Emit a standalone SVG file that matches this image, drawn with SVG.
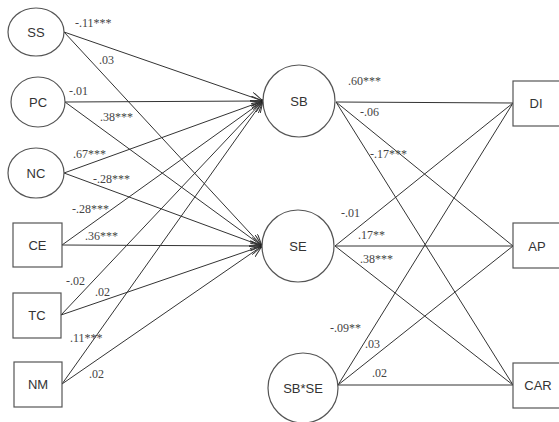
<svg xmlns="http://www.w3.org/2000/svg" width="559" height="422" viewBox="0 0 559 422">
<style>
.node{fill:#fff;stroke:#555;stroke-width:1.2}
.lbl{font-family:"Liberation Sans",Arial,sans-serif;font-size:13px;fill:#333;text-anchor:middle;dominant-baseline:central}
.coef{font-family:"Liberation Serif","Times New Roman",serif;font-size:12px;fill:#444}
.edge{stroke:#333;stroke-width:1;fill:none}
.arr{marker-end:url(#open)}
</style>
<defs>
<marker id="open" viewBox="0 0 12 10" refX="12" refY="5" markerWidth="12" markerHeight="10" markerUnits="userSpaceOnUse" orient="auto">
<path d="M0,0 L12,5 L0,10" fill="none" stroke="#333" stroke-width="1"/>
<circle cx="11" cy="5" r="1.5" fill="#222"/>
</marker>
</defs>
<rect width="559" height="422" fill="#fff"/>
<g id="connectors">
<line class="edge arr" x1="64" y1="32" x2="263" y2="101"/>
<line class="edge arr" x1="64" y1="32" x2="262" y2="246"/>
<line class="edge arr" x1="65" y1="102" x2="263" y2="101"/>
<line class="edge arr" x1="65" y1="102" x2="262" y2="246"/>
<line class="edge arr" x1="64" y1="173" x2="263" y2="101"/>
<line class="edge arr" x1="64" y1="173" x2="262" y2="246"/>
<line class="edge arr" x1="62" y1="245" x2="263" y2="101"/>
<line class="edge arr" x1="62" y1="245" x2="262" y2="246"/>
<line class="edge arr" x1="61" y1="315" x2="263" y2="101"/>
<line class="edge arr" x1="61" y1="315" x2="262" y2="246"/>
<line class="edge arr" x1="62" y1="384" x2="263" y2="101"/>
<line class="edge arr" x1="62" y1="384" x2="262" y2="246"/>
<line class="edge" x1="336" y1="102" x2="513" y2="103"/>
<line class="edge" x1="336" y1="102" x2="513" y2="246"/>
<line class="edge" x1="336" y1="102" x2="513" y2="385"/>
<line class="edge" x1="335" y1="246" x2="513" y2="103"/>
<line class="edge" x1="335" y1="246" x2="513" y2="246"/>
<line class="edge" x1="335" y1="246" x2="513" y2="385"/>
<line class="edge" x1="338" y1="385" x2="513" y2="103"/>
<line class="edge" x1="338" y1="385" x2="513" y2="246"/>
<line class="edge" x1="338" y1="385" x2="513" y2="385"/>
</g>
<g id="coefficients">
<text class="coef" x="75" y="27">-.11***</text>
<text class="coef" x="99" y="64">.03</text>
<text class="coef" x="69" y="95">-.01</text>
<text class="coef" x="100" y="121">.38***</text>
<text class="coef" x="73" y="158">.67***</text>
<text class="coef" x="93" y="183">-.28***</text>
<text class="coef" x="72" y="213">-.28***</text>
<text class="coef" x="85" y="240">.36***</text>
<text class="coef" x="66" y="285">-.02</text>
<text class="coef" x="95" y="296">.02</text>
<text class="coef" x="70" y="342">.11***</text>
<text class="coef" x="89" y="378">.02</text>
<text class="coef" x="348" y="85">.60***</text>
<text class="coef" x="360" y="116">-.06</text>
<text class="coef" x="370" y="158">-.17***</text>
<text class="coef" x="341" y="217">-.01</text>
<text class="coef" x="358" y="239">.17**</text>
<text class="coef" x="360" y="263">.38***</text>
<text class="coef" x="330" y="332">-.09**</text>
<text class="coef" x="365" y="348">.03</text>
<text class="coef" x="372" y="377">.02</text>
</g>
<g id="SS"><ellipse class="node" cx="36" cy="32" rx="28" ry="24"/><text class="lbl" x="36" y="32">SS</text></g>
<g id="PC"><ellipse class="node" cx="38" cy="102" rx="27" ry="25"/><text class="lbl" x="38" y="102">PC</text></g>
<g id="NC"><ellipse class="node" cx="36" cy="173" rx="28" ry="25"/><text class="lbl" x="36" y="173">NC</text></g>
<g id="CE"><rect class="node" x="13" y="223" width="49" height="44"/><text class="lbl" x="37.5" y="245">CE</text></g>
<g id="TC"><rect class="node" x="13" y="293" width="48" height="45"/><text class="lbl" x="37" y="315">TC</text></g>
<g id="NM"><rect class="node" x="14" y="362" width="48" height="45"/><text class="lbl" x="38" y="384">NM</text></g>
<g id="SB"><circle class="node" cx="299" cy="101" r="36"/><text class="lbl" x="299" y="101">SB</text></g>
<g id="SE"><circle class="node" cx="298" cy="246" r="36"/><text class="lbl" x="298" y="246">SE</text></g>
<g id="SBxSE"><circle class="node" cx="303" cy="388" r="35"/><text class="lbl" x="303" y="388">SB*SE</text></g>
<g id="DI"><rect class="node" x="513" y="81" width="50" height="45"/><text class="lbl" x="536" y="103">DI</text></g>
<g id="AP"><rect class="node" x="513" y="223" width="50" height="45"/><text class="lbl" x="537" y="246">AP</text></g>
<g id="CAR"><rect class="node" x="513" y="363" width="50" height="45"/><text class="lbl" x="538" y="385">CAR</text></g>
</svg>
